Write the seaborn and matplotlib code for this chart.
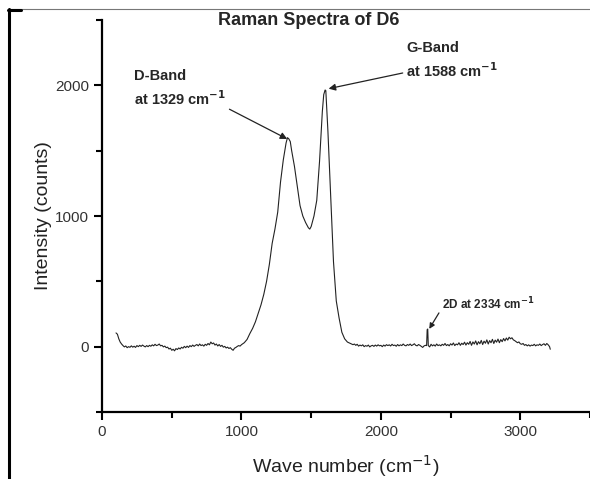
import pandas as pd
import seaborn as sns
import matplotlib.pyplot as plt
from matplotlib.lines import Line2D
from matplotlib.ticker import MultipleLocator

# spectrum (wave number in cm-1, intensity in counts)
# flat part before the D band
wave_low = list(range(100, 1001, 10))
int_low = [105, 95, 60, 35, 20, 8, -2, 5, -8, 0, -5, 6, -4, 3, -6, 8, 0, 10, 2, 12,
           4, -2, 8, 0, 10, 3, 14, 6, 18, 8, 12, 20, 6, 10, -2, 4, -8, -4, -18, -12,
           -28, -20, -32, -15, -22, -10, -18, -5, -12, 2, -8, 4, -6, 8, 0, 12, 2, 10, 16, 6,
           20, 8, 14, 4, 18, 10, 24, 14, 35, 22, 28, 12, 20, 5, 16, 2, 10, -4, 2, -10,
           -4, -14, -8, -20, -28, -12, -6, 2, 8, 4, 15]

# D and G bands
wave_peak = [1020, 1040, 1060, 1080, 1100, 1120, 1140, 1160, 1180, 1200, 1220, 1240,
             1260, 1280, 1300, 1320, 1330, 1340, 1350, 1360, 1380, 1400, 1420, 1440, 1460,
             1480, 1490, 1500, 1520, 1540, 1560, 1580, 1590, 1600, 1605, 1620, 1640, 1660,
             1680, 1700, 1720, 1740, 1760, 1780]
int_peak = [30, 55, 100, 140, 190, 255, 320, 400, 500, 630, 790, 900,
            1030, 1260, 1430, 1560, 1600, 1590, 1570, 1500, 1380, 1230, 1080, 1000, 950,
            910, 900, 920, 1000, 1120, 1420, 1800, 1930, 1965, 1960, 1650, 1150, 650,
            350, 220, 110, 60, 35, 25]

# flat part with the small 2D line
wave_high = (list(range(1800, 2321, 10)) + [2328, 2332, 2336]
             + list(range(2340, 3211, 10)) + [3215])
int_high = [15, 20, 10, 18, 4, 12, 6, 14, 0, 8, 3, 12, -2, 6, 10, 2, 12, 4, 14, 6,
            10, 0, 12, 4, 15, 8, 14, 5, 18, 8, 12, 3, 16, 6, 14, 8, 20, 10, 6, 16,
            10, 20, 8, 14, 22, 10, 6, 16, 10, 2, -6, 6, 10,
            8, 130, 135,
            8, -2, 18, 6, 14, 4, 20, 8, 14, 6, 18, 10, 24, 8, 16, 6, 22, 12, 28, 8,
            20, 14, 30, 10, 26, 16, 34, 12, 30, 18, 40, 10, 36, 20, 44, 14, 38, 22, 48, 16,
            42, 26, 52, 20, 46, 30, 56, 24, 50, 34, 58, 30, 54, 38, 62, 44, 66, 50, 72, 60,
            68, 52, 46, 38, 30, 36, 22, 18, 24, 10, 16, 6, 14, 4, 12, 8, 18, 6, 14, 10,
            20, 8, 16, 22, 10, 24, 14, 0, -20]

df = pd.DataFrame({'wave': wave_low + wave_peak + wave_high,
                   'intensity': int_low + int_peak + int_high})

sns.set_style('ticks')
plt.rcParams['font.family'] = ['Liberation Sans', 'DejaVu Sans']

fig = plt.figure(figsize=(5.9, 4.79), dpi=100)
ax = fig.add_axes([0.173, 0.14, 0.827, 0.818])

sns.lineplot(data=df, x='wave', y='intensity', ax=ax, color='#222222', linewidth=0.8)

ax.set_xlim(0, 3500)
ax.set_ylim(-500, 2500)
ax.xaxis.set_major_locator(MultipleLocator(1000))
ax.xaxis.set_minor_locator(MultipleLocator(500))
ax.yaxis.set_major_locator(MultipleLocator(1000))
ax.yaxis.set_minor_locator(MultipleLocator(500))
ax.tick_params(which='major', length=6, width=1.5, labelsize=11, labelcolor='#333333', color='black')
ax.tick_params(which='minor', length=4, width=1.5, color='black')
for s in ['top', 'right']:
    ax.spines[s].set_visible(False)
for s in ['left', 'bottom']:
    ax.spines[s].set_linewidth(1.6)
    ax.spines[s].set_color('black')

ax.set_xlabel('Wave number (cm$^{-1}$)', fontsize=14, color='#222222', labelpad=10)
ax.set_ylabel('Intensity (counts)', fontsize=14, color='#222222', labelpad=2)
fig.text(0.524, 0.958, 'Raman Spectra of D6', fontsize=13, fontweight='bold',
         ha='center', va='center')

ax.annotate('D-Band\nat 1329 cm$^{\\mathbf{-1}}$', xy=(1328, 1590), xytext=(230, 1980),
            fontsize=10.5, fontweight='bold', linespacing=1.4, va='center', ha='left',
            arrowprops=dict(arrowstyle='-|>', color='#222222', lw=0.9, shrinkA=0, shrinkB=0,
                            relpos=(1.0, 0.0), mutation_scale=10))
ax.annotate('G-Band\nat 1588 cm$^{\\mathbf{-1}}$', xy=(1625, 1975), xytext=(2180, 2190),
            fontsize=10.5, fontweight='bold', linespacing=1.4, va='center', ha='left',
            arrowprops=dict(arrowstyle='-|>', color='#222222', lw=0.9, shrinkA=0, shrinkB=0,
                            relpos=(0.0, 0.2), mutation_scale=10))
ax.annotate('2D at 2334 cm$^{\\mathbf{-1}}$', xy=(2347, 136), xytext=(2440, 325),
            fontsize=8.5, fontweight='bold', va='center', ha='left',
            arrowprops=dict(arrowstyle='-|>', color='#222222', lw=0.9, shrinkA=0, shrinkB=0,
                            relpos=(0.0, 0.3), mutation_scale=8))

# frame of the original picture
fig.add_artist(Line2D([0.014, 1.0], [0.981, 0.981], color='#777777', lw=0.8, transform=fig.transFigure))
fig.add_artist(Line2D([0.015, 0.015], [0.0, 0.982], color='black', lw=2.2, transform=fig.transFigure))
fig.add_artist(Line2D([0.014, 0.035], [0.979, 0.979], color='black', lw=2.2, transform=fig.transFigure))

fig.savefig('out.png', dpi=100)
